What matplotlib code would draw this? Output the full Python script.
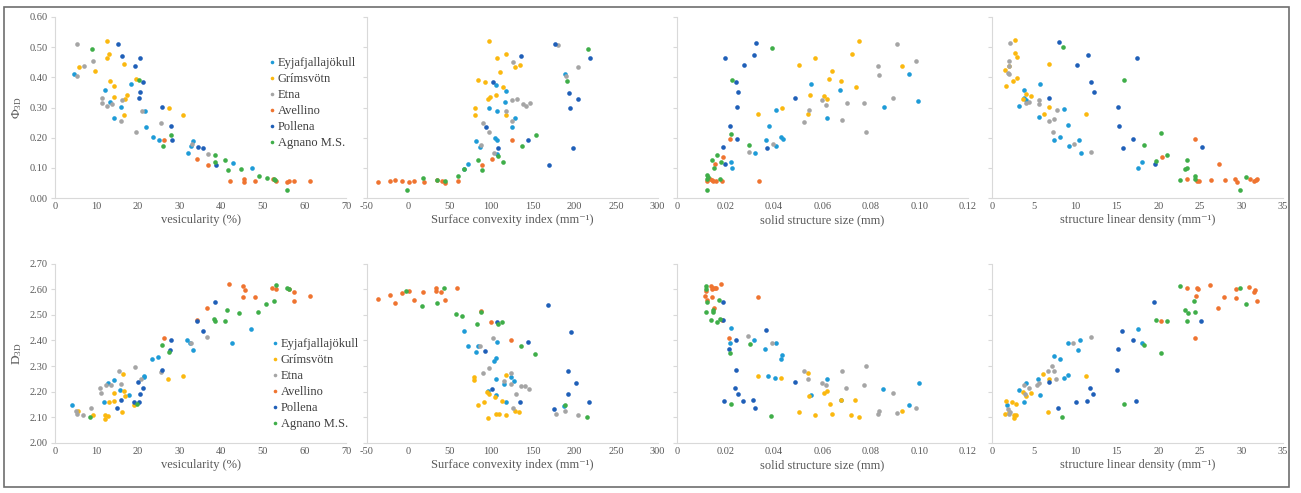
import matplotlib
matplotlib.use("Agg")
import matplotlib.pyplot as plt
from matplotlib.patches import Rectangle
from matplotlib.lines import Line2D

plt.rcParams['font.family'] = ['Liberation Serif', 'DejaVu Serif']
plt.rcParams['mathtext.fontset'] = 'custom'
plt.rcParams['mathtext.rm'] = 'Liberation Serif'
plt.rcParams['mathtext.it'] = 'Liberation Serif:italic'

series = ["Eyjafjallajökull", "Grímsvötn", "Etna", "Avellino", "Pollena", "Agnano M.S."]
colors = ["#1e9bd7", "#fbb80f", "#a5a5a5", "#ef7430", "#1f5fb8", "#3fae49"]

# --- top row: Phi_3D ---
phi_ves = {
    "Eyjafjallajökull": [(4.6, 0.411), (12, 0.357), (13.2, 0.319), (14.2, 0.266), (15.8, 0.302), (18.2, 0.377),
                         (21.6, 0.29), (21.8, 0.236), (23.5, 0.201), (25, 0.192), (31.9, 0.148), (32.7, 0.171),
                         (33.2, 0.19), (42.8, 0.115), (47.3, 0.099)],
    "Grímsvötn": [(5.8, 0.435), (9.6, 0.42), (12.5, 0.52), (12.6, 0.465), (13, 0.478), (13.2, 0.388), (14.1, 0.37),
                  (14.2, 0.335), (16.5, 0.443), (16.6, 0.276), (16.9, 0.327), (17.2, 0.343), (19.6, 0.393),
                  (27.4, 0.298), (30.9, 0.276)],
    "Etna": [(5.4, 0.509), (5.4, 0.406), (7, 0.436), (9.2, 0.453), (11.4, 0.331), (11.3, 0.315), (12.4, 0.305),
             (13.7, 0.312), (15.8, 0.255), (16.2, 0.325), (19.4, 0.219), (21, 0.29), (25.6, 0.25), (33, 0.178),
             (36.7, 0.147)],
    "Avellino": [(26.3, 0.192), (34.2, 0.13), (36.9, 0.11), (42, 0.057), (45.4, 0.062), (45.4, 0.052),
                 (48.2, 0.057), (52.4, 0.062), (53.1, 0.055), (55.7, 0.053), (56.2, 0.057), (57.4, 0.057),
                 (61.4, 0.055)],
    "Pollena": [(15.2, 0.512), (16.1, 0.472), (19.3, 0.439), (20.4, 0.465), (21.2, 0.386), (20.4, 0.35),
                (20.2, 0.33), (25.8, 0.302), (27.8, 0.238), (28.1, 0.192), (34.4, 0.168), (35.6, 0.166),
                (38.8, 0.11)],
    "Agnano M.S.": [(8.8, 0.495), (20.2, 0.39), (27.8, 0.21), (26, 0.173), (38.6, 0.141), (38.4, 0.119),
                    (40.9, 0.126), (41.5, 0.092), (44.7, 0.096), (49.1, 0.073), (51, 0.065), (52.6, 0.062),
                    (53, 0.06), (55.8, 0.026)],
}

phi_sci = {
    "Eyjafjallajökull": [(188.4, 0.412), (106, 0.373), (118, 0.355), (116.4, 0.318), (97.6, 0.30), (107.2, 0.29),
                         (129.2, 0.265), (124.8, 0.235), (82, 0.189), (104, 0.2), (106.8, 0.191), (86, 0.169),
                         (107.2, 0.145), (71.6, 0.114), (67.6, 0.097)],
    "Grímsvötn": [(97.6, 0.519), (118, 0.476), (106.8, 0.464), (134.4, 0.441), (129.2, 0.434), (110, 0.418),
                  (84.4, 0.391), (92.4, 0.386), (113.6, 0.368), (105.2, 0.343), (98, 0.335), (96, 0.327),
                  (80, 0.298), (80, 0.274), (118, 0.274)],
    "Etna": [(180, 0.508), (126.4, 0.452), (204.8, 0.434), (190.4, 0.403), (124.8, 0.325), (130.8, 0.329),
             (138, 0.31), (141.6, 0.304), (146.4, 0.315), (117.2, 0.29), (124.8, 0.255), (90.4, 0.249),
             (97.6, 0.218), (87.6, 0.176), (103.2, 0.149)],
    "Avellino": [(-36.4, 0.053), (-21.6, 0.056), (-15.2, 0.06), (-6.8, 0.056), (1.6, 0.053), (7.6, 0.056),
                 (18.8, 0.053), (35.2, 0.06), (41.2, 0.056), (44.8, 0.05), (59.6, 0.055), (88.4, 0.109),
                 (100.4, 0.129), (124.8, 0.193)],
    "Pollena": [(176.8, 0.51), (136, 0.471), (218.8, 0.463), (102.4, 0.383), (193.6, 0.348), (204, 0.328),
                (194.8, 0.30), (93.2, 0.236), (144.4, 0.191), (108.4, 0.167), (198.4, 0.165), (169.6, 0.109)],
    "Agnano M.S.": [(216, 0.494), (191.2, 0.388), (153.6, 0.209), (137.6, 0.172), (108.4, 0.14), (113.6, 0.119),
                    (84, 0.125), (88.4, 0.092), (66.8, 0.095), (59.6, 0.073), (18, 0.066), (34.8, 0.061),
                    (44, 0.057), (-1.6, 0.027)],
}

phi_sss = {
    "Eyjafjallajökull": [(0.0957, 0.412), (0.0554, 0.377), (0.0672, 0.357), (0.0995, 0.322), (0.0852, 0.302),
                         (0.041, 0.291), (0.0619, 0.266), (0.0379, 0.239), (0.0366, 0.192), (0.0427, 0.202),
                         (0.0437, 0.194), (0.041, 0.173), (0.0322, 0.148), (0.0221, 0.118), (0.0227, 0.1)],
    "Grímsvötn": [(0.0751, 0.52), (0.072, 0.478), (0.057, 0.465), (0.0504, 0.442), (0.0926, 0.438),
                  (0.0639, 0.421), (0.0628, 0.393), (0.0678, 0.387), (0.0737, 0.368), (0.0547, 0.343),
                  (0.0608, 0.338), (0.0619, 0.328), (0.0432, 0.299), (0.0539, 0.277), (0.0333, 0.277)],
    "Etna": [(0.0907, 0.512), (0.0987, 0.454), (0.0829, 0.438), (0.0834, 0.408), (0.0891, 0.333), (0.0598, 0.325),
             (0.0616, 0.308), (0.0701, 0.316), (0.0773, 0.314), (0.0543, 0.291), (0.0525, 0.253), (0.0682, 0.26),
             (0.0779, 0.22), (0.0397, 0.178), (0.0296, 0.151)],
    "Avellino": [(0.0219, 0.194), (0.0191, 0.135), (0.0157, 0.113), (0.0337, 0.056), (0.0122, 0.056),
                 (0.0136, 0.062), (0.0148, 0.056), (0.0162, 0.056), (0.0184, 0.056), (0.0143, 0.061)],
    "Pollena": [(0.0327, 0.515), (0.0199, 0.465), (0.0316, 0.473), (0.0275, 0.44), (0.0243, 0.385),
                (0.025, 0.351), (0.0247, 0.302), (0.0487, 0.33), (0.0219, 0.239), (0.0247, 0.194),
                (0.0371, 0.167), (0.0191, 0.17), (0.0197, 0.112)],
    "Agnano M.S.": [(0.039, 0.497), (0.0225, 0.391), (0.0221, 0.211), (0.0298, 0.177), (0.0166, 0.143),
                    (0.0146, 0.126), (0.018, 0.12), (0.0151, 0.099), (0.0125, 0.077), (0.0128, 0.07),
                    (0.0122, 0.062), (0.0177, 0.062), (0.0125, 0.028)],
}

phi_sld = {
    "Eyjafjallajökull": [(5.75, 0.379), (3.8, 0.357), (4.1, 0.324), (3.3, 0.304), (8.7, 0.294), (5.6, 0.269),
                         (9.2, 0.241), (7.4, 0.193), (8.2, 0.202), (9.3, 0.172), (10.5, 0.191), (10.7, 0.149),
                         (18.1, 0.118), (17.5, 0.10), (3.9, 0.33)],
    "Grímsvötn": [(2.8, 0.523), (2.8, 0.481), (3, 0.466), (6.8, 0.445), (2.05, 0.438), (1.6, 0.424), (3, 0.398),
                  (2.5, 0.389), (1.7, 0.37), (4.1, 0.346), (4.7, 0.339), (3.7, 0.329), (6.8, 0.302),
                  (6.2, 0.277), (11.3, 0.278)],
    "Etna": [(2.2, 0.514), (2, 0.454), (2.1, 0.436), (1.9, 0.415), (2.1, 0.411), (5.6, 0.326), (5.6, 0.31),
             (4.1, 0.316), (4.5, 0.317), (7.8, 0.291), (6.8, 0.254), (7.5, 0.261), (7.3, 0.22), (9.9, 0.178),
             (11.9, 0.151)],
    "Avellino": [(24.4, 0.196), (20.4, 0.137), (27.3, 0.112), (23.5, 0.064), (24.6, 0.055), (24.9, 0.055),
                 (26.3, 0.059), (28, 0.059), (29.2, 0.062), (29.5, 0.053), (31, 0.064), (31.5, 0.057),
                 (31.8, 0.061), (31.9, 0.064)],
    "Pollena": [(8, 0.516), (11.5, 0.473), (10.2, 0.441), (17.4, 0.465), (11.9, 0.386), (12.3, 0.351),
                (6.9, 0.33), (15.2, 0.303), (15.3, 0.239), (16.9, 0.196), (15.7, 0.167), (25.2, 0.169),
                (19.6, 0.112)],
    "Agnano M.S.": [(8.5, 0.499), (15.9, 0.392), (20.3, 0.214), (18.3, 0.175), (21.1, 0.144), (19.7, 0.124),
                    (23.5, 0.127), (23.2, 0.095), (23.5, 0.099), (24.4, 0.073), (24.4, 0.064), (22.6, 0.061),
                    (30.5, 0.07), (29.8, 0.028)],
}

# --- bottom row: D_3D ---
d_ves = {
    "Eyjafjallajökull": [(4.2, 2.147), (11.8, 2.16), (12.8, 2.233), (14.1, 2.246), (15.6, 2.205), (17.9, 2.188),
                         (21.3, 2.257), (21.5, 2.262), (23.3, 2.329), (24.7, 2.337), (31.8, 2.40), (33.1, 2.362),
                         (32.5, 2.389), (42.6, 2.389), (47.1, 2.444)],
    "Grímsvötn": [(5.5, 2.123), (9.1, 2.11), (12.1, 2.095), (12.1, 2.11), (12.7, 2.106), (13, 2.16), (14.1, 2.165),
                  (14.1, 2.195), (16.4, 2.27), (16.5, 2.204), (16.9, 2.182), (16.1, 2.121), (19, 2.15),
                  (27.1, 2.25), (30.7, 2.26)],
    "Etna": [(5.2, 2.115), (5, 2.123), (6.8, 2.108), (8.7, 2.135), (10.8, 2.214), (11.1, 2.195), (12.2, 2.226),
             (13.5, 2.226), (15.5, 2.281), (15.9, 2.231), (19.2, 2.298), (20.8, 2.249), (25.4, 2.276),
             (32.7, 2.389), (36.6, 2.415)],
    "Avellino": [(26.1, 2.411), (34.1, 2.479), (36.6, 2.527), (41.9, 2.619), (45.3, 2.611), (45.7, 2.598),
                 (45.3, 2.568), (48.1, 2.568), (52.1, 2.606), (53.2, 2.60), (56.4, 2.599), (57.5, 2.589),
                 (57.4, 2.554), (61.3, 2.575)],
    "Pollena": [(15, 2.136), (15.8, 2.166), (18.9, 2.158), (20.1, 2.158), (19.9, 2.237), (20.4, 2.192),
                (21.1, 2.213), (25.7, 2.285), (27.8, 2.402), (27.7, 2.364), (34.2, 2.477), (35.5, 2.438),
                (38.6, 2.55)],
    "Agnano M.S.": [(8.4, 2.10), (19.8, 2.153), (25.8, 2.383), (27.5, 2.353), (38.2, 2.482), (38.4, 2.476),
                    (40.8, 2.476), (41.4, 2.519), (44.3, 2.506), (48.9, 2.51), (50.8, 2.543), (52.7, 2.554),
                    (53.2, 2.616), (55.7, 2.606), (56.3, 2.60)],
}

d_sci = {
    "Eyjafjallajökull": [(66.8, 2.438), (71.6, 2.38), (81.2, 2.355), (84.4, 2.38), (106.8, 2.394), (106, 2.333),
                         (103.2, 2.32), (106, 2.249), (124, 2.258), (128, 2.243), (115.6, 2.23), (96.4, 2.204),
                         (105.6, 2.187), (117.6, 2.16), (187.2, 2.145)],
    "Grímsvötn": [(79.2, 2.257), (79.2, 2.245), (117.6, 2.267), (95.2, 2.198), (97.2, 2.19), (104, 2.18),
                  (91.6, 2.16), (84, 2.148), (112.8, 2.162), (105.6, 2.112), (108.8, 2.112), (117.6, 2.109),
                  (128.8, 2.125), (134, 2.121), (96.4, 2.097)],
    "Etna": [(102, 2.411), (86.8, 2.38), (97.2, 2.293), (89.6, 2.274), (124, 2.274), (115.6, 2.243), (124, 2.231),
             (136.4, 2.224), (141.2, 2.224), (145.2, 2.21), (129.6, 2.191), (126, 2.136), (178.4, 2.114),
             (188.8, 2.125), (204.4, 2.109)],
    "Avellino": [(-36, 2.563), (-22, 2.576), (-15.2, 2.545), (-6.8, 2.586), (1.2, 2.591), (6.8, 2.558),
                 (18, 2.589), (33.2, 2.606), (33.6, 2.593), (40, 2.589), (44, 2.556), (59.2, 2.606),
                 (88, 2.516), (99.2, 2.47), (124, 2.403)],
    "Pollena": [(168, 2.54), (196.4, 2.431), (106.4, 2.471), (144.4, 2.394), (92.8, 2.359), (192.8, 2.28),
                (202.4, 2.233), (101.2, 2.21), (192.8, 2.192), (134.8, 2.16), (217.6, 2.16), (175.6, 2.132)],
    "Agnano M.S.": [(-2.4, 2.591), (43.2, 2.606), (16.8, 2.533), (35.2, 2.545), (58, 2.502), (64.8, 2.497),
                    (88, 2.51), (82.8, 2.466), (108, 2.466), (112.8, 2.473), (136.4, 2.377), (152.8, 2.346),
                    (188.8, 2.149), (214.8, 2.10)],
}

d_sss = {
    "Eyjafjallajökull": [(0.0222, 2.447), (0.022, 2.39), (0.0316, 2.40), (0.041, 2.39), (0.0361, 2.367),
                         (0.0435, 2.342), (0.0428, 2.328), (0.0375, 2.263), (0.0406, 2.255), (0.0618, 2.25),
                         (0.0552, 2.189), (0.085, 2.21), (0.0997, 2.235), (0.0957, 2.148), (0.0676, 2.166)],
    "Grímsvötn": [(0.0334, 2.263), (0.0539, 2.272), (0.0428, 2.252), (0.0543, 2.184), (0.0608, 2.196),
                  (0.0618, 2.204), (0.0629, 2.151), (0.0678, 2.166), (0.0736, 2.166), (0.0505, 2.121),
                  (0.0569, 2.11), (0.064, 2.113), (0.0719, 2.108), (0.075, 2.10), (0.0926, 2.124)],
    "Etna": [(0.0292, 2.418), (0.0393, 2.39), (0.0524, 2.28), (0.0541, 2.25), (0.0599, 2.235), (0.0615, 2.227),
             (0.068, 2.28), (0.0697, 2.216), (0.0781, 2.30), (0.0772, 2.227), (0.0889, 2.196), (0.0828, 2.112),
             (0.0832, 2.125), (0.0908, 2.118), (0.0987, 2.138)],
    "Avellino": [(0.0115, 2.574), (0.0119, 2.594), (0.0123, 2.557), (0.0139, 2.614), (0.0143, 2.60),
                 (0.0147, 2.603), (0.0157, 2.606), (0.0162, 2.604), (0.0181, 2.619), (0.0143, 2.57),
                 (0.0153, 2.526), (0.0187, 2.48), (0.0215, 2.411), (0.0334, 2.57)],
    "Pollena": [(0.0191, 2.549), (0.0188, 2.48), (0.0215, 2.368), (0.0244, 2.40), (0.0368, 2.439),
                (0.0244, 2.286), (0.0487, 2.238), (0.024, 2.214), (0.0251, 2.193), (0.0195, 2.162),
                (0.0271, 2.162), (0.0314, 2.166), (0.0323, 2.135)],
    "Agnano M.S.": [(0.0119, 2.614), (0.0121, 2.60), (0.0125, 2.548), (0.0121, 2.512), (0.0147, 2.52),
                    (0.015, 2.509), (0.0173, 2.557), (0.0142, 2.478), (0.0164, 2.473), (0.0177, 2.482),
                    (0.022, 2.351), (0.0299, 2.386), (0.0222, 2.152), (0.0386, 2.104)],
}

d_sld = {
    "Eyjafjallajökull": [(1.8, 2.148), (3.2, 2.208), (3.8, 2.161), (4.1, 2.235), (5.5, 2.248), (5.8, 2.189),
                         (7.4, 2.338), (8.2, 2.329), (8.7, 2.254), (9.2, 2.265), (9.2, 2.389), (10.4, 2.363),
                         (10.6, 2.40), (17.5, 2.444), (18.1, 2.389)],
    "Grímsvötn": [(1.7, 2.165), (1.6, 2.114), (2.4, 2.161), (2.9, 2.152), (2, 2.122), (2.7, 2.097), (2.9, 2.11),
                  (3.7, 2.20), (4.1, 2.182), (4.7, 2.195), (6.1, 2.27), (6.8, 2.25), (6.7, 2.121),
                  (11.3, 2.261), (2.6, 2.109)],
    "Etna": [(1.9, 2.134), (2, 2.113), (2.2, 2.122), (3.9, 2.225), (4.4, 2.214), (5.4, 2.228), (5.6, 2.233),
             (6.7, 2.282), (7.2, 2.30), (7.4, 2.282), (7.7, 2.248), (9.8, 2.389), (11.9, 2.415), (4, 2.193)],
    "Avellino": [(23.4, 2.604), (24.7, 2.604), (24.8, 2.599), (26.2, 2.617), (24.5, 2.573), (27.9, 2.57),
                 (27.2, 2.526), (29.3, 2.60), (29.4, 2.566), (30.9, 2.609), (31.6, 2.596), (31.5, 2.587),
                 (31.9, 2.553), (20.3, 2.476), (24.4, 2.41)],
    "Pollena": [(19.5, 2.549), (25.1, 2.477), (15.6, 2.438), (16.9, 2.40), (15.2, 2.366), (15, 2.283),
                (6.9, 2.236), (11.8, 2.214), (12.2, 2.191), (11.4, 2.165), (10.1, 2.161), (17.3, 2.163),
                (7.9, 2.135)],
    "Agnano M.S.": [(22.6, 2.613), (29.8, 2.604), (24.3, 2.553), (30.5, 2.543), (23.2, 2.519), (23.6, 2.507),
                    (24.4, 2.51), (23.5, 2.476), (19.7, 2.481), (21.1, 2.476), (18.3, 2.381), (20.3, 2.351),
                    (15.9, 2.152), (8.4, 2.101)],
}

xlabels = ["vesicularity (%)", "Surface convexity index (mm⁻¹)",
           "solid structure size (mm)", "structure linear density (mm⁻¹)"]
xlims = [(0, 70), (-50, 300), (0, 0.12), (0, 35)]
xsteps = [10, 50, 0.02, 5]
xfmts = ["{:.0f}", "{:.0f}", "{:.2f}", "{:.0f}"]

W, H = 1301, 493
fig = plt.figure(figsize=(W / 100, H / 100), dpi=100)

lefts = [55, 366.5, 677, 992]
aw = 291
rows = [
    dict(panels=[phi_ves, phi_sci, phi_sss, phi_sld], y0=17, y1=198, ylim=(0, 0.6), ystep=0.1,
         ylabel="Φ$_{\\rm 3D}$", leg=(269, 57)),
    dict(panels=[d_ves, d_sci, d_sss, d_sld], y0=263.5, y1=443, ylim=(2.0, 2.7), ystep=0.1,
         ylabel="D$_{\\rm 3D}$", leg=(272, 338)),
]

grey = "#595959"
axcol = "#d9d9d9"

for row in rows:
    for j, data in enumerate(row["panels"]):
        ax = fig.add_axes([lefts[j] / W, 1 - row["y1"] / H, aw / W, (row["y1"] - row["y0"]) / H])
        for name, c in zip(series, colors):
            pts = data[name]
            ax.scatter([p[0] for p in pts], [p[1] for p in pts], s=11, color=c, linewidths=0, zorder=3)
        ax.set_xlim(*xlims[j])
        ax.set_ylim(*row["ylim"])
        lo, hi = xlims[j]
        n = int(round((hi - lo) / xsteps[j]))
        xt = [lo + k * xsteps[j] for k in range(n + 1)]
        ax.set_xticks(xt)
        ax.set_xticklabels(["0" if v == 0 else xfmts[j].format(v) for v in xt])
        ylo, yhi = row["ylim"]
        m = int(round((yhi - ylo) / row["ystep"]))
        yt = [ylo + k * row["ystep"] for k in range(m + 1)]
        ax.set_yticks(yt)
        if j == 0:
            ax.set_yticklabels(["{:.2f}".format(v) for v in yt])
            ax.set_ylabel(row["ylabel"], fontsize=9.5, color=grey, labelpad=4)
        else:
            ax.set_yticklabels([])
        for s in ["top", "right"]:
            ax.spines[s].set_visible(False)
        for s in ["left", "bottom"]:
            ax.spines[s].set_color(axcol)
            ax.spines[s].set_linewidth(0.8)
        ax.tick_params(axis="x", length=0, pad=3, labelsize=7.5, labelcolor=grey)
        ax.tick_params(axis="y", length=3, width=0.8, color=axcol, pad=2, labelsize=7.5, labelcolor=grey)
        ax.set_xlabel(xlabels[j], fontsize=9, color=grey, labelpad=2)
        ax.patch.set_alpha(0)

    handles = [Line2D([], [], ls="none", marker="o", ms=2.6, mfc=c, mec="none") for c in colors]
    lx, ly = row["leg"]
    fig.legend(handles, series, loc="upper left", bbox_to_anchor=(lx / W, 1 - ly / H),
               frameon=False, fontsize=9, labelcolor="#404040", handlelength=0.4, handletextpad=0.3,
               labelspacing=0.32, borderaxespad=0, borderpad=0)

fig.add_artist(Rectangle((4 / W, 1 - 487 / H), 1285 / W, 480 / H, transform=fig.transFigure,
                         fill=False, edgecolor="#6e6e6e", linewidth=1.2))

fig.savefig("out.png", dpi=100)
